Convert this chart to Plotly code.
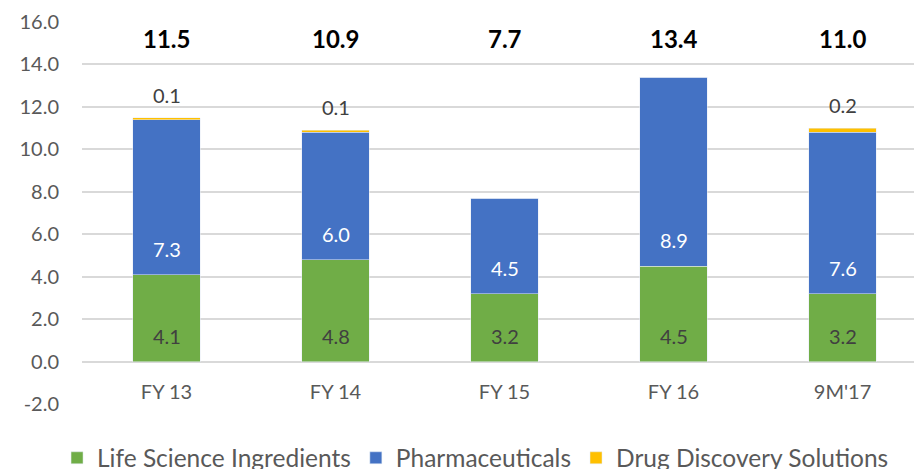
import plotly.graph_objects as go

categories = ["FY 13", "FY 14", "FY 15", "FY 16", "9M'17"]
life_science = [4.1, 4.8, 3.2, 4.5, 3.2]
pharma = [7.3, 6.0, 4.5, 8.9, 7.6]
drug_discovery = [0.1, 0.1, 0.0, 0.0, 0.2]
totals = [11.5, 10.9, 7.7, 13.4, 11.0]
y_ticks = [-2, 0, 2, 4, 6, 8, 10, 12, 14, 16]

FONT = "Lato, 'Open Sans', sans-serif"
y_min, y_max = -2, 16

fig = go.Figure()
fig.add_trace(go.Bar(name="Life Science Ingredients", x=categories, y=life_science,
                     marker_color="#70AD47"))
fig.add_trace(go.Bar(name="Pharmaceuticals", x=categories, y=pharma,
                     marker_color="#4472C4"))
fig.add_trace(go.Bar(name="Drug Discovery Solutions", x=categories, y=drug_discovery,
                     marker_color="#FFC000"))

# "inside base" data labels
for c, g, p in zip(categories, life_science, pharma):
    fig.add_annotation(x=c, y=0, text=f"{g:.1f}", showarrow=False,
                       yanchor="bottom", yshift=12,
                       font=dict(size=20, color="#404040", family=FONT))
    fig.add_annotation(x=c, y=g, text=f"{p:.1f}", showarrow=False,
                       yanchor="bottom", yshift=12,
                       font=dict(size=20, color="#FFFFFF", family=FONT))

# labels for drug discovery values (above bar tops)
for c, v, t in zip(categories, drug_discovery, totals):
    if v > 0:
        fig.add_annotation(x=c, y=t, text=f"{v:.1f}", showarrow=False,
                           yanchor="bottom", yshift=9,
                           font=dict(size=20, color="#404040", family=FONT))
# totals
for c, t in zip(categories, totals):
    fig.add_annotation(x=c, y=15.2, text=f"<b>{t:.1f}</b>", showarrow=False,
                       yanchor="middle",
                       font=dict(size=24, color="#000000", family=FONT))

fig.update_layout(
    barmode="stack",
    bargap=0.6,
    width=914, height=469,
    margin=dict(l=82, r=0, t=22, b=65, autoexpand=False),
    plot_bgcolor="white", paper_bgcolor="white",
    font=dict(family=FONT, color="#595959", size=20),
    legend=dict(orientation="h", x=-0.03, xanchor="left", y=-0.141, yanchor="middle",
                font=dict(size=24.5, color="#595959", family=FONT),
                traceorder="normal"),
    xaxis=dict(range=[-0.5, 4.423], anchor="free",
               position=(0 - y_min) / (y_max - y_min),
               showline=False, showgrid=False, ticks="outside", ticklen=12,
               tickcolor="rgba(0,0,0,0)", tickfont=dict(size=20, color="#595959")),
    yaxis=dict(range=[y_min, y_max], tickvals=y_ticks,
               ticktext=[f"{v:.1f}" for v in y_ticks],
               showgrid=True, gridcolor="#D9D9D9", gridwidth=1.5,
               zeroline=True, zerolinecolor="#D9D9D9", zerolinewidth=1.5,
               ticks="outside", ticklen=18, tickcolor="rgba(0,0,0,0)",
               tickfont=dict(size=20, color="#595959")),
    showlegend=True,
)

fig.write_html("out.html", config={"displayModeBar": False},
               post_script="document.body.style.margin='0';")
